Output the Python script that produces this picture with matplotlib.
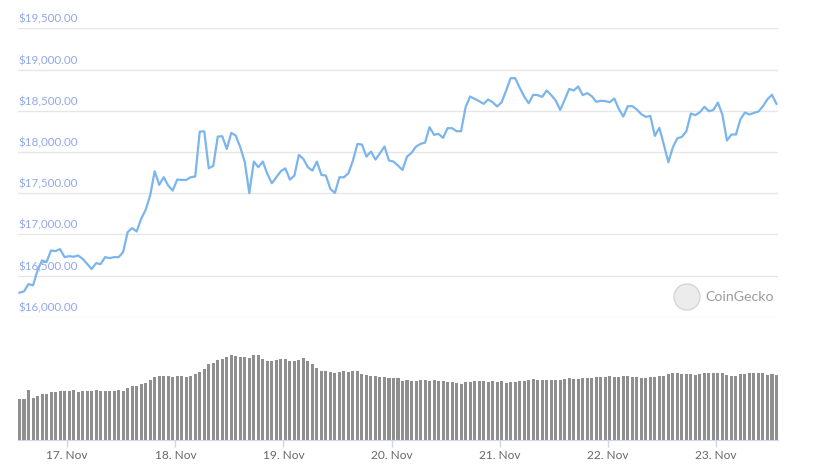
import matplotlib
matplotlib.use("Agg")
import matplotlib.pyplot as plt
import matplotlib.dates as mdates
import pandas as pd
from matplotlib.patches import Ellipse
from matplotlib.ticker import MultipleLocator

# hourly BTC price (USD) and relative volume, 16 Nov -> 23 Nov 2020
price = [
    16291, 16307, 16396, 16380, 16562, 16683, 16663, 16804, 16796, 16820,
    16723, 16735, 16727, 16743, 16703, 16642, 16578, 16650, 16638, 16723,
    16711, 16723, 16723, 16784, 17026, 17075, 17034, 17188, 17297, 17471,
    17765, 17600, 17693, 17592, 17531, 17664, 17660, 17660, 17693, 17701,
    18246, 18250, 17802, 17830, 18186, 18190, 18036, 18230, 18198, 18056,
    17875, 17499, 17883, 17814, 17883, 17733, 17620,
    17692, 17765, 17801, 17664, 17712, 17964, 17915, 17814, 17773, 17883,
    17721, 17712, 17550, 17502, 17692, 17692, 17741, 17895, 18097, 18089,
    17943, 18004, 17907, 17984, 18065, 17895, 17883, 17834, 17781, 17943,
    17988, 18065, 18097, 18113, 18300, 18207, 18219, 18170, 18288, 18288,
    18251, 18251, 18543, 18672, 18644, 18616, 18583, 18636, 18603, 18551,
    18603, 18745, 18895, 18895, 18780,
    18672, 18591, 18693, 18689, 18668, 18745, 18689, 18624, 18510, 18632,
    18765, 18745, 18794, 18689, 18713, 18676, 18608, 18620, 18616, 18603,
    18648, 18522, 18429, 18555, 18555, 18514, 18458, 18425, 18437, 18194,
    18292, 18089, 17874, 18057, 18166, 18182, 18251, 18466, 18446, 18482,
    18547, 18494, 18510, 18599, 18450, 18138, 18211, 18211, 18397, 18478,
    18454, 18474, 18490, 18555, 18640, 18693, 18583,
]
volume = [
    41, 41, 50, 42, 44, 46, 46, 48, 48, 49,
    49, 49, 50, 48, 49, 49, 49, 50, 49, 49,
    49, 49, 50, 49, 52, 54, 54, 56, 57, 60,
    63, 64, 64, 64, 63, 64, 64, 63, 64, 66,
    68, 71, 76, 77, 80, 81, 83, 85, 84, 83,
    83, 82, 85, 85, 81, 79, 79,
    80, 81, 81, 79, 79, 80, 82, 79, 76, 72,
    69, 69, 68, 67, 68, 69, 68, 69, 69, 66,
    65, 64, 64, 63, 63, 62, 62, 62, 59, 60,
    59, 59, 60, 60, 59, 60, 59, 59, 58, 58,
    57, 56, 58, 58, 59, 59, 59, 58, 59, 58,
    59, 57, 58, 58, 59,
    59, 60, 61, 60, 60, 60, 60, 60, 60, 61,
    62, 61, 61, 62, 62, 62, 63, 63, 63, 64,
    63, 63, 64, 64, 63, 63, 62, 62, 63, 63,
    64, 64, 66, 67, 67, 66, 66, 66, 65, 66,
    67, 67, 67, 67, 67, 65, 64, 64, 66, 66,
    67, 67, 67, 67, 65, 66, 65,
]
times = pd.date_range("2020-11-16 13:25", periods=len(price), freq="h")
day_ticks = pd.date_range("2020-11-17", "2020-11-23", freq="D")
price_levels = list(range(16000, 19501, 500))

W, H = 814, 465
LINE = "#7cb5ec"
BAR = "#8f8f8f"
AXIS = "#ccd6eb"
GRID = "#e6e6e6"

plt.rcParams["font.family"] = ["Lato", "DejaVu Sans"]

fig = plt.figure(figsize=(W / 100, H / 100), dpi=100)
left, width = 18 / W, 760 / W

pad = pd.Timedelta(minutes=20)
xlim = (mdates.date2num(times[0] - pad), mdates.date2num(times[-1] + pad))

# price panel
ax = fig.add_axes([left, (H - 316.7) / H, width, 288.4 / H])
ax.plot(times, price, color=LINE, lw=1.6, solid_joinstyle="round", zorder=3)
ax.set_ylim(16000, 19500)
ax.set_xlim(xlim)
ax.yaxis.set_major_locator(MultipleLocator(500))
ax.grid(axis="y", color=GRID, lw=1)
ax.set_axisbelow(True)
for s in ax.spines.values():
    s.set_visible(False)
ax.tick_params(left=False, bottom=False, labelleft=False, labelbottom=False)
# labels sit inside the plot, just above their grid line
for v in price_levels:
    ax.annotate(f"${v:,.2f}", xy=(0, v), xycoords=ax.get_yaxis_transform(),
                xytext=(0, 2.5), textcoords="offset points",
                ha="left", va="bottom", fontsize=8.4, color="#93a8ec")

# volume panel
axv = fig.add_axes([left, 25 / H, width, 95 / H])
axv.bar(times, volume, width=0.028, color=BAR, align="center")
axv.set_ylim(0, 95)
axv.set_xlim(xlim)
for k, s in axv.spines.items():
    s.set_visible(k == "bottom")
axv.spines["bottom"].set_color(AXIS)
axv.tick_params(left=False, labelleft=False)
axv.set_xticks(day_ticks)
axv.xaxis.set_major_formatter(mdates.DateFormatter("%d. %b"))
axv.tick_params(axis="x", direction="out", length=5, color=AXIS, width=1,
                labelcolor="#666666", labelsize=8.6, pad=2)

# CoinGecko watermark
fig.patches.append(Ellipse((687 / W, 1 - 297 / H), 26 / W, 26 / H,
                           transform=fig.transFigure, facecolor="#ececec",
                           edgecolor="#d6d6d6", lw=1))
fig.text(705 / W, 1 - 297 / H, "CoinGecko", ha="left", va="center",
         fontsize=10.2, color="#9c9c9c")

fig.savefig("out.png", dpi=100)
